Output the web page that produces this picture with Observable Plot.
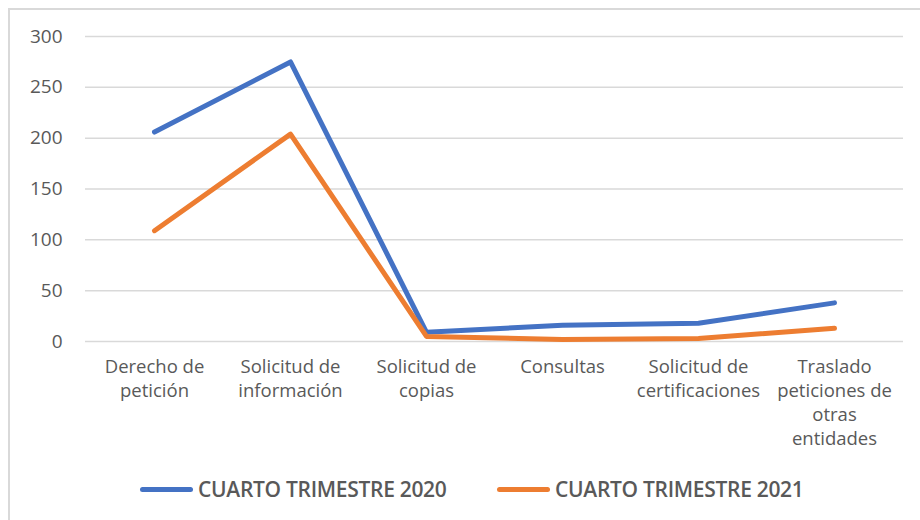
<!DOCTYPE html>
<html>
<head>
<meta charset="utf-8">
<script src="https://cdn.jsdelivr.net/npm/d3@7"></script>
<script src="https://cdn.jsdelivr.net/npm/@observablehq/plot@0.6"></script>
<style>
  html, body { margin: 0; padding: 0; background: #fff; }
  #wrap { position: relative; width: 920px; height: 520px; overflow: hidden; font-family: "Open Sans", sans-serif; }
  #frame { position: absolute; left: 8px; top: 8px; width: 960px; height: 600px; border: 2px solid #d9d9d9; box-sizing: border-box; }
  #chart { position: absolute; left: 0; top: 0; }
  #legend { position: absolute; left: 0; top: 474px; width: 920px; height: 30px; }
  .item { position: absolute; top: 0; display: flex; align-items: center; height: 30px; }
  .swatch { width: 53px; height: 5px; border-radius: 3px; margin-right: 5px; }
  .lbl { font-size: 21px; font-weight: 600; letter-spacing: -0.3px; color: #595959; white-space: nowrap; }
</style>
</head>
<body>
<div id="wrap">
  <div id="frame"></div>
  <div id="chart"></div>
  <div id="legend"></div>
</div>
<script>
const categories = ["Derecho de petición", "Solicitud de información", "Solicitud de copias", "Consultas", "Solicitud de certificaciones", "Traslado peticiones de otras entidades"];
const tickLabels = ["Derecho de\npetición", "Solicitud de\ninformación", "Solicitud de\ncopias", "Consultas", "Solicitud de\ncertificaciones", "Traslado\npeticiones de\notras\nentidades"];
const seriesNames = ["CUARTO TRIMESTRE 2020", "CUARTO TRIMESTRE 2021"];
const values2020 = [206, 275, 9, 16, 18, 38];
const values2021 = [109, 204, 5, 2, 3, 13];
const yTicks = [0, 50, 100, 150, 200, 250, 300];
const colors = ["#4472C4", "#ED7D31"];

const data = [];
categories.forEach((c, i) => {
  data.push({ category: c, series: seriesNames[0], value: values2020[i] });
  data.push({ category: c, series: seriesNames[1], value: values2021[i] });
});
const labelMap = new Map(categories.map((c, i) => [c, tickLabels[i]]));

const chart = Plot.plot({
  width: 920,
  height: 460,
  marginLeft: 85,
  marginRight: 17,
  marginTop: 36,
  marginBottom: 119,
  style: { fontFamily: "Open Sans, sans-serif", fontSize: "19px", color: "#595959", background: "transparent" },
  x: { type: "band", domain: categories, padding: 0, label: null },
  y: { domain: [0, 300], label: null },
  color: { domain: seriesNames, range: colors },
  marks: [
    Plot.gridY(yTicks, { stroke: "#d9d9d9", strokeOpacity: 1, strokeWidth: 1.5 }),
    Plot.axisY(yTicks, { tickSize: 0, tickPadding: 23, fontSize: 19, fill: "#595959", label: null }),
    Plot.axisX({ tickSize: 0, tickPadding: 14, fontSize: 18.5, fill: "#595959", lineHeight: 1.3, tickFormat: d => labelMap.get(d), label: null }),
    Plot.line(data, { x: "category", y: "value", z: "series", stroke: "series", strokeWidth: 5, strokeLinecap: "round", strokeLinejoin: "round" })
  ]
});
document.getElementById("chart").appendChild(chart);

const legend = document.getElementById("legend");
const lefts = [140, 497];
seriesNames.forEach((s, i) => {
  const item = document.createElement("div");
  item.className = "item";
  item.style.left = lefts[i] + "px";
  const sw = document.createElement("div");
  sw.className = "swatch";
  sw.style.background = colors[i];
  const t = document.createElement("span");
  t.className = "lbl";
  t.textContent = s;
  item.appendChild(sw);
  item.appendChild(t);
  legend.appendChild(item);
});
</script>
</body>
</html>
